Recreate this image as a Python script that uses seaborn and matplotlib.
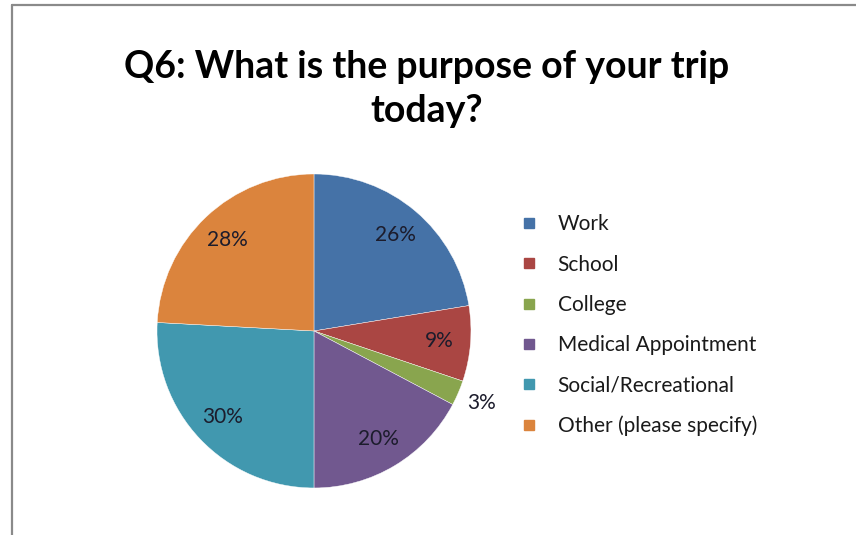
import seaborn as sns
from matplotlib import pyplot as plt
from matplotlib.lines import Line2D
import numpy as np

# survey answers (multi-select, so the percentages add to more than 100)
purposes = ['Work', 'School', 'College', 'Medical Appointment',
            'Social/Recreational', 'Other (please specify)']
percents = [26, 9, 3, 20, 30, 28]
colours = ['#4572A7', '#AA4643', '#89A54E', '#71588F', '#4198AF', '#DB843D']

sns.set_style('white')
plt.rcParams['font.family'] = ['Lato', 'DejaVu Sans']

fig = plt.figure(figsize=(8.56, 5.35), dpi=100)
ax = fig.add_axes([0.1834, 0.0879, 0.3668, 0.5869])

pal = sns.color_palette(colours)
wedges, _ = ax.pie(percents, colors=pal, startangle=90, counterclock=False,
                   radius=1, wedgeprops=dict(linewidth=0.3, edgecolor='white'))
ax.set_xlim(-1, 1)
ax.set_ylim(-1, 1)
ax.set_aspect('equal')
ax.axis('off')

# data labels, the tiny slice goes outside (like excel "best fit")
total = sum(percents)
for w, p in zip(wedges, percents):
    mid = np.deg2rad((w.theta1 + w.theta2) / 2)
    dist = 1.16 if p / total < 0.05 else 0.8
    ax.text(dist * np.cos(mid), dist * np.sin(mid), f'{p}%', ha='center', va='center',
            fontsize=15, color='#1c1c2c')

fig.text(0.498, 0.833, 'Q6: What is the purpose of your trip\ntoday?', ha='center', va='center',
         fontsize=27, fontweight='bold', linespacing=1.36, color='black')

handles = [Line2D([], [], marker='s', linestyle='none', markersize=7.5, color=c) for c in pal]
fig.legend(handles, purposes, loc='center left', bbox_to_anchor=(0.598, 0.392), frameon=False,
           fontsize=15, labelspacing=0.97, handlelength=0.8, handletextpad=1.0,
           borderaxespad=0, labelcolor='#1a1a1a')

# the chart frame (only left and top are inside the picture)
fig.add_artist(Line2D([11.5 / 856, 11.5 / 856], [1 - 4.5 / 535, 0], color='#8a8a8a', linewidth=1.6))
fig.add_artist(Line2D([11.5 / 856, 1], [1 - 4.5 / 535, 1 - 4.5 / 535], color='#8a8a8a', linewidth=1.6))

plt.savefig('out.png', dpi=100, facecolor='white')
plt.close()
